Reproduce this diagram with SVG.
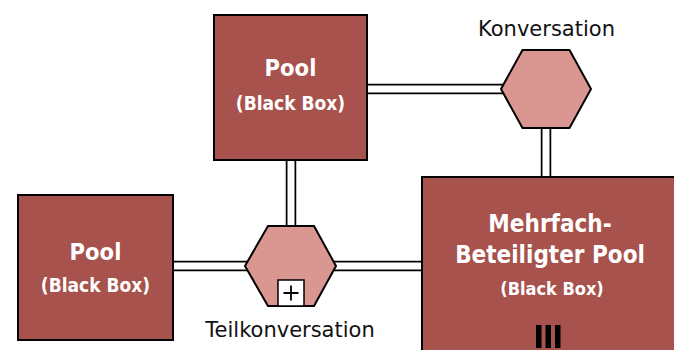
<svg xmlns="http://www.w3.org/2000/svg" width="674" height="350" viewBox="0 0 674 350">
<style>
.pool{fill:#A7524C;stroke:#000;stroke-width:2}
.hex{fill:#DA9792;stroke:#000;stroke-width:2;stroke-linejoin:miter}
.ct{fill:#fff;font-family:"DejaVu Sans Condensed","DejaVu Sans",Verdana,sans-serif;font-weight:bold;text-anchor:middle}
.lbl{fill:#111;font-family:"DejaVu Sans",Verdana,sans-serif;font-size:21px;text-anchor:middle}
.outer{stroke:#000;stroke-width:10.5;fill:none}
.inner{stroke:#fff;stroke-width:7;fill:none}
</style>
<rect width="674" height="350" fill="#fff"/>
<g id="connectors">
<path class="outer" d="M367 89H503M546 127V178M291 159V228M172 266H247M334 266H423"/>
<path class="inner" d="M366 89H504M546 126V179M291 158V229M171 266H248M333 266H424"/>
</g>
<g id="pool-top">
<rect class="pool" x="214" y="15" width="153" height="145"/>
<text class="ct" x="290.5" y="76" font-size="23.5">Pool</text>
<text class="ct" x="290.5" y="110" font-size="19">(Black Box)</text>
</g>
<g id="pool-left">
<rect class="pool" x="18" y="195" width="155" height="145"/>
<text class="ct" x="95.5" y="260" font-size="23.5">Pool</text>
<text class="ct" x="95.5" y="292" font-size="19">(Black Box)</text>
</g>
<g id="pool-multi">
<rect class="pool" x="422" y="177" width="256" height="180"/>
<text class="ct" x="550" y="232" font-size="24">Mehrfach-</text>
<text class="ct" x="550" y="263" font-size="24">Beteiligter Pool</text>
<text class="ct" x="552" y="295" font-size="18">(Black Box)</text>
<rect x="536" y="325" width="5.5" height="23" fill="#000"/>
<rect x="545.5" y="325" width="5.5" height="23" fill="#000"/>
<rect x="555" y="325" width="5.5" height="23" fill="#000"/>
</g>
<g id="conversation">
<polygon class="hex" points="501,89 522.5,50 569.5,50 591,89 569.5,128 522.5,128"/>
<text class="lbl" x="546.5" y="36">Konversation</text>
</g>
<g id="subconversation">
<polygon class="hex" points="245,266 268,226 314,226 336,266 314,306 268,306"/>
<rect x="278" y="280" width="26" height="26" fill="#fff" stroke="#000" stroke-width="1.5"/>
<path d="M291 285.5V300.5M283.5 293H298.5" stroke="#000" stroke-width="1.8"/>
<text class="lbl" x="290" y="337">Teilkonversation</text>
</g>
</svg>
